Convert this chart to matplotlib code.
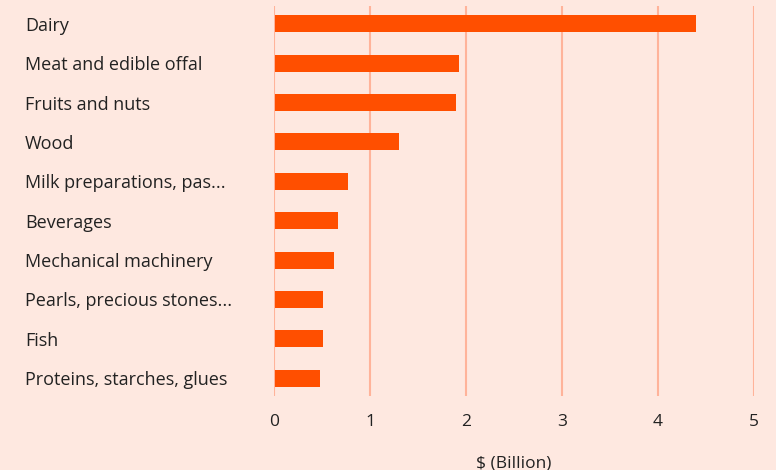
import matplotlib.pyplot as plt
import numpy as np

categories = [
    'Dairy',
    'Meat and edible offal',
    'Fruits and nuts',
    'Wood',
    'Milk preparations, pas...',
    'Beverages',
    'Mechanical machinery',
    'Pearls, precious stones...',
    'Fish',
    'Proteins, starches, glues',
]
values = [4.39, 1.92, 1.89, 1.29, 0.76, 0.66, 0.62, 0.50, 0.50, 0.47]
xticks = [0, 1, 2, 3, 4, 5]

bg = '#fee8e0'
bar_color = '#ff4f00'
grid_color = '#ffb39a'
text_color = '#222222'

plt.rcParams['font.family'] = ['Open Sans', 'DejaVu Sans']

fig = plt.figure(figsize=(7.76, 4.70), dpi=100, facecolor=bg)
ax = fig.add_axes([274 / 776, 1 - 396 / 470, 480 / 776, 390 / 470])
ax.set_facecolor(bg)

y = np.arange(len(categories))
ax.barh(y, values, height=0.43, color=bar_color, left=0.01, zorder=3)

ax.set_xlim(0, 5)
ax.set_ylim(len(categories) - 0.55, -0.45)
ax.set_xticks(xticks)
ax.set_xticklabels([str(t) for t in xticks], fontsize=12.5, color=text_color)
ax.set_yticks(y)
ax.set_yticklabels(categories, fontsize=13, color=text_color, ha='left')
ax.tick_params(axis='y', length=0, pad=249 * 0.72)
ax.tick_params(axis='x', length=0, pad=13)

ax.grid(axis='x', color=grid_color, linewidth=1.5, zorder=1)
for s in ax.spines.values():
    s.set_visible(False)

ax.set_xlabel('$ (Billion)', fontsize=12.5, color=text_color, labelpad=18)

fig.savefig('out.png', dpi=100, facecolor=bg)
